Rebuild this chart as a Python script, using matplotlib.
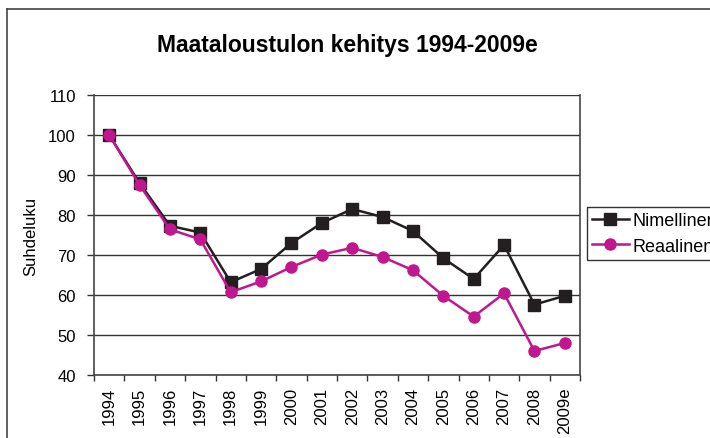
import matplotlib.pyplot as plt
import numpy as np
from matplotlib.lines import Line2D

plt.rcParams['font.family'] = ['Liberation Sans', 'DejaVu Sans']

# Data
years = ['1994', '1995', '1996', '1997', '1998', '1999', '2000', '2001',
         '2002', '2003', '2004', '2005', '2006', '2007', '2008', '2009e']
nimellinen = [100, 88, 77.3, 75.6, 63.2, 66.5, 73, 78, 81.5, 79.5, 76, 69.2, 64, 72.5, 57.6, 59.8]
reaalinen = [100, 87.5, 76.4, 73.9, 60.7, 63.4, 67, 70.1, 71.8, 69.5, 66.2, 59.8, 54.6, 60.4, 46, 48]

fig = plt.figure(figsize=(7.1, 4.39), dpi=100)
ax = fig.add_axes([94/710, 1 - 376/439, (580 - 94)/710, (376 - 96)/439])

x = np.arange(len(years))
ax.plot(x, nimellinen, color='#231f20', linewidth=1.8, marker='s', markersize=8.5,
        label='Nimellinen', zorder=3)
ax.plot(x, reaalinen, color='#c0178e', linewidth=1.8, marker='o', markersize=8,
        label='Reaalinen', zorder=4)

ax.set_xlim(-0.5, len(years) - 0.5)
ax.set_ylim(40, 110)
ax.set_yticks(range(40, 111, 10))
ax.yaxis.grid(True, color='#333333', linewidth=1.0)
ax.set_axisbelow(True)

# category labels centered, tick marks between categories
ax.set_xticks(x)
ax.set_xticklabels(years, rotation=90, fontsize=12)
ax.set_xticks(np.arange(-0.5, len(years)), minor=True)
ax.tick_params(axis='x', which='major', length=0, pad=8.5)
ax.tick_params(axis='x', which='minor', length=4, width=1, color='#333333')
ax.tick_params(axis='y', length=5, width=1, color='#333333', labelsize=12, pad=8)

for side in ['left', 'bottom', 'right']:
    ax.spines[side].set_color('#444444')
    ax.spines[side].set_linewidth(1.2)
ax.spines['top'].set_visible(False)

ax.set_ylabel('Suhdeluku', fontsize=12, labelpad=7)
fig.text(347/710, 1 - 45.5/439, 'Maataloustulon kehitys 1994-2009e',
         ha='center', va='center', fontsize=16.5, fontweight='bold')

# legend sits at the right edge and its text runs past it, as in the original
leg = ax.legend(loc='upper left', bbox_to_anchor=(587/710, 1 - 208/439),
                bbox_transform=fig.transFigure, borderaxespad=0, fontsize=13,
                fancybox=False, edgecolor='#333333', framealpha=1,
                handlelength=2.0, handletextpad=0.2, borderpad=0.3, labelspacing=0.45)
leg.get_frame().set_linewidth(1.0)

# outer chart frame
fig.add_artist(Line2D([7/710, 1], [1 - 10/439, 1 - 10/439], color='#444444',
                      linewidth=1.2, transform=fig.transFigure))
fig.add_artist(Line2D([7/710, 7/710], [0, 1 - 10/439], color='#444444',
                      linewidth=1.2, transform=fig.transFigure))

fig.savefig('out.png', dpi=100)
